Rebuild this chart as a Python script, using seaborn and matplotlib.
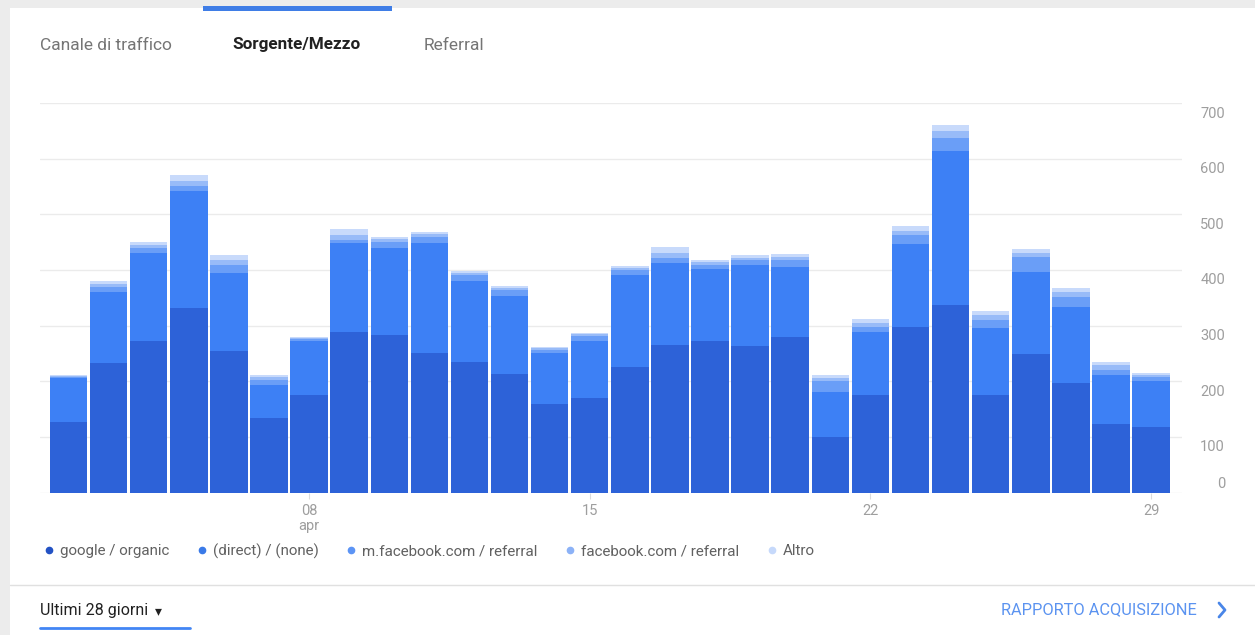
import numpy as np
import pandas as pd
import matplotlib
matplotlib.use("Agg")
import matplotlib.pyplot as plt
import seaborn as sns
from matplotlib.patches import Rectangle
from matplotlib.lines import Line2D
from matplotlib.transforms import ScaledTranslation

# ---------------- data ----------------
days = ["02", "03", "04", "05", "06", "07", "08", "09", "10", "11", "12", "13", "14", "15",
        "16", "17", "18", "19", "20", "21", "22", "23", "24", "25", "26", "27", "28", "29"]
google_organic = [127, 233, 273, 331, 254, 134, 175, 288, 283, 251, 235, 213, 159, 170,
                  226, 265, 272, 263, 279, 100, 175, 297, 337, 175, 249, 197, 123, 117]
direct_none = [78, 128, 157, 210, 140, 59, 98, 161, 157, 197, 146, 141, 91, 103,
               165, 147, 129, 145, 126, 80, 113, 149, 276, 120, 148, 137, 88, 83]
m_facebook = [3, 8, 9, 9, 15, 10, 3, 4, 10, 12, 10, 10, 6, 8,
              9, 9, 8, 9, 12, 21, 9, 16, 24, 15, 27, 18, 10, 7]
facebook = [2, 6, 6, 9, 9, 5, 2, 9, 5, 5, 4, 4, 3, 3,
            3, 10, 5, 5, 7, 5, 8, 8, 13, 9, 6, 9, 8, 4]
altro = [2, 5, 5, 12, 8, 4, 2, 12, 5, 4, 3, 3, 3, 3,
         4, 10, 4, 4, 5, 5, 7, 9, 11, 7, 7, 6, 6, 4]

series_names = ["google / organic", "(direct) / (none)", "m.facebook.com / referral",
                "facebook.com / referral", "Altro"]
series_colors = ["#2d62d8", "#3d80f5", "#6a9ef7", "#98bbf8", "#c8dafb"]
legend_colors = ["#2352c4", "#3a7ae8", "#5c94f5", "#8cb2f7", "#c6d9fb"]

yticks = [0, 100, 200, 300, 400, 500, 600, 700]
xtick_days = ["08", "15", "22", "29"]
xtick_labels = ["08\napr", "15", "22", "29"]

df = pd.DataFrame({"day": days, "g": google_organic, "d": direct_none,
                   "m": m_facebook, "f": facebook, "a": altro})
layers = [df["g"]]
for col in ["d", "m", "f", "a"]:
    layers.append(layers[-1] + df[col])

# ---------------- figure ----------------
W, H = 1255, 635
sns.set_style("white")
plt.rcParams["font.family"] = ["Roboto", "DejaVu Sans"]

fig = plt.figure(figsize=(W / 100, H / 100), dpi=100)
fig.patch.set_facecolor("#ececec")
fig.add_artist(Rectangle((10 / W, 0), 1 - 10 / W, 1 - 8 / H, transform=fig.transFigure,
                         facecolor="white", edgecolor="none", zorder=0))

# tabs
fig.add_artist(Rectangle((203 / W, 1 - 11 / H), 189 / W, 5 / H, transform=fig.transFigure,
                         facecolor="#3f7de6", edgecolor="none", zorder=1))
fig.text(40 / W, 1 - 45 / H, "Canale di traffico", color="#757575", fontsize=12.5, va="center")
fig.text(232 / W, 1 - 45 / H, "Sorgente/Mezzo", color="#212121", fontsize=12.3,
         fontweight="bold", va="center")
fig.text(424 / W, 1 - 45 / H, "Referral", color="#757575", fontsize=12.5, va="center")

# chart axes
ax = fig.add_axes([40 / W, 1 - 492.5 / H, 1142 / W, 389.5 / H])
ax.set_facecolor("none")
for i in range(4, -1, -1):
    sns.barplot(x=df["day"], y=layers[i], color=series_colors[i], saturation=1,
                width=0.935, errorbar=None, linewidth=0, ax=ax, order=days)

ax.set_ylim(0, 700)
ax.set_xlim(-0.71, 27.77)
ax.set_axisbelow(True)
ax.grid(axis="y", color="#ebebeb", linewidth=1)
ax.grid(axis="x", visible=False)
for s in ax.spines.values():
    s.set_visible(False)
ax.set_xlabel("")
ax.set_ylabel("")

ax.set_xticks([days.index(d) for d in xtick_days])
ax.set_xticklabels(xtick_labels, linespacing=1.1)
ax.tick_params(axis="x", length=4, color="#dcdcdc", labelcolor="#9e9e9e",
               labelsize=10.5, pad=4, bottom=True)

ax.yaxis.tick_right()
ax.set_yticks(yticks)
ax.set_yticklabels([str(v) for v in yticks])
ax.tick_params(axis="y", length=0, pad=31, labelcolor="#9e9e9e", labelsize=10.5)
for tick, v in zip(ax.yaxis.get_major_ticks(), yticks):
    lab = tick.label2
    lab.set_horizontalalignment("right")
    dy = 0.10 if v == 0 else -0.09
    lab.set_transform(lab.get_transform() + ScaledTranslation(0, dy, fig.dpi_scale_trans))

# legend
handles = [Line2D([], [], marker="o", ls="", color=c, markersize=4.5) for c in legend_colors]
leg = fig.legend(handles, series_names, loc="center left",
                 bbox_to_anchor=(44 / W, 1 - 551 / H), ncol=5, frameon=False,
                 fontsize=10.9, handlelength=0.7, handletextpad=0.37, columnspacing=1.8,
                 borderaxespad=0, borderpad=0)
for t in leg.get_texts():
    t.set_color("#616161")

# footer
fig.add_artist(Line2D([10 / W, 1], [1 - 585 / H, 1 - 585 / H], transform=fig.transFigure,
                      color="#e0e0e0", linewidth=1))
fig.text(40 / W, 1 - 610 / H, "Ultimi 28 giorni", color="#212121", fontsize=11.5,
         va="center")
fig.text(155 / W, 1 - 611 / H, "\u25be", color="#212121", fontsize=10,
         va="center", family=["DejaVu Sans"])
fig.add_artist(Line2D([40 / W, 190 / W], [1 - 628 / H, 1 - 628 / H], transform=fig.transFigure,
                      color="#4285f4", linewidth=2))
fig.text(1197 / W, 1 - 610 / H, "RAPPORTO ACQUISIZIONE", color="#5b93f0", fontsize=11.8,
         va="center", ha="right")
fig.add_artist(Line2D([1219 / W, 1225 / W, 1219 / W], [1 - 603 / H, 1 - 610 / H, 1 - 617 / H],
                      transform=fig.transFigure, color="#4a86e8", linewidth=2))

fig.savefig("out.png", dpi=100, facecolor=fig.get_facecolor())
